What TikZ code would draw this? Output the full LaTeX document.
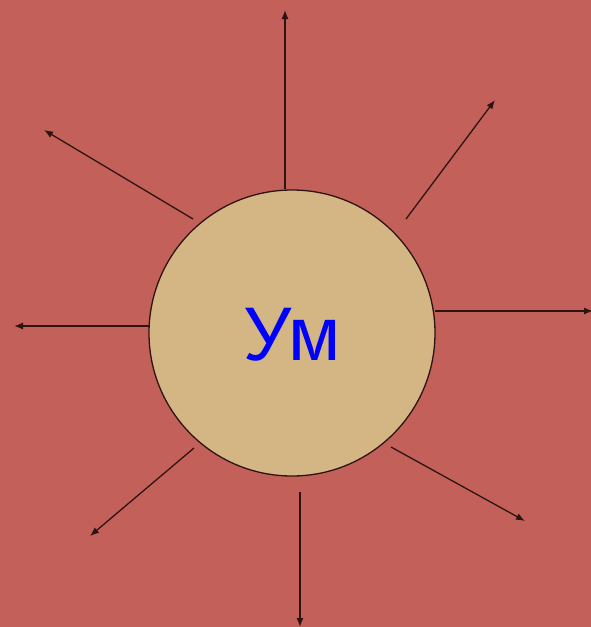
\documentclass[tikz,border=0pt]{standalone}
\usepackage{fontspec}
\setmainfont{Liberation Sans}
\usetikzlibrary{arrows.meta}
\definecolor{BackRed}{RGB}{195,96,89}
\definecolor{MindTan}{RGB}{211,182,131}
\definecolor{RayBrown}{RGB}{45,20,18}
\definecolor{WordBlue}{RGB}{0,0,255}
\tikzset{
  mindcircle/.style={circle,draw=RayBrown,fill=MindTan,line width=1.3pt,
    minimum size=286pt,inner sep=0pt},
  ray/.style={-{Latex[length=9pt,width=7pt]},line width=1.3pt,draw=RayBrown}
}

\begin{document}
\begin{tikzpicture}[x=1pt,y=-1pt]
  \fill[BackRed] (0,0) rectangle (591,627);
  \useasboundingbox (0,0) rectangle (591,627);
  \node[mindcircle] (mind) at (292,333) {};
  \node[font=\fontsize{76}{76}\selectfont,text=WordBlue] (word) at (292,335) {Ум};
  % start and end of each ray
  \foreach \i/\sx/\sy/\ex/\ey in {1/285/189/285/10, 2/406/219/495/100,
      3/193/219/44/130, 4/149/326/14/326, 5/435/311/593/311,
      6/391/447/525/521, 7/194/448/90/536, 8/300/492/300/627}{
    \coordinate (s\i) at (\sx,\sy);
    \coordinate (e\i) at (\ex,\ey);
    \draw[ray] (s\i) -- (e\i);
  }
\end{tikzpicture}
\end{document}
